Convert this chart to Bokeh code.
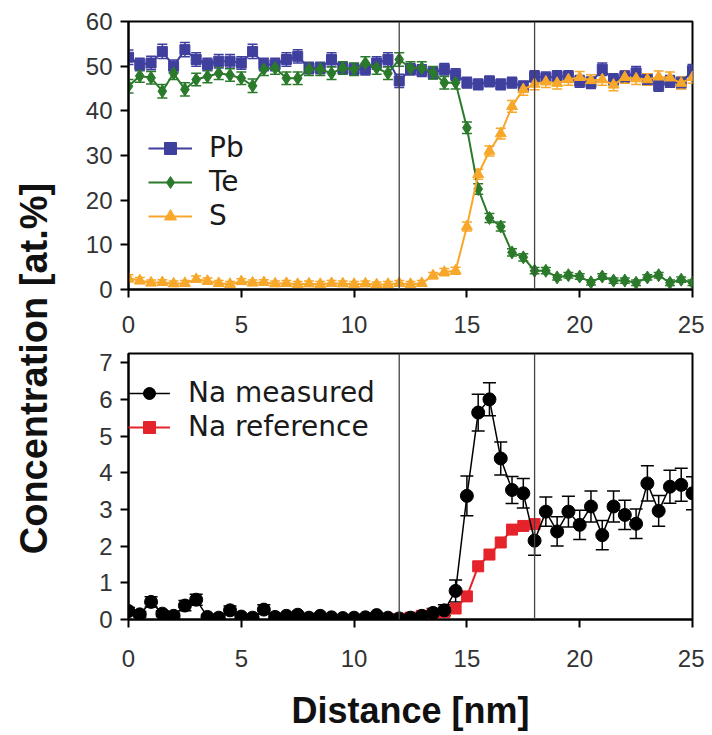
import numpy as np
from bokeh.plotting import figure
from bokeh.layouts import row, column
from bokeh.models import Span, Legend, LegendItem, FixedTicker, Range1d
from bokeh.embed import file_html
from bokeh.resources import INLINE
from bokeh.core.properties import value

# ---------------- data ----------------
distance = [0.0, 0.5, 1.0, 1.5, 2.0, 2.5, 3.0, 3.5, 4.0, 4.5,
            5.0, 5.5, 6.0, 6.5, 7.0, 7.5, 8.0, 8.5, 9.0, 9.5,
            10.0, 10.5, 11.0, 11.5, 12.0, 12.5, 13.0, 13.5, 14.0, 14.5,
            15.0, 15.5, 16.0, 16.5, 17.0, 17.5, 18.0, 18.5, 19.0, 19.5,
            20.0, 20.5, 21.0, 21.5, 22.0, 22.5, 23.0, 23.5, 24.0, 24.5, 25.0]

pb = [52.0, 50.4, 50.7, 53.3, 50.0, 53.7, 51.5, 50.4, 51.1, 51.1,
      50.7, 53.3, 50.4, 50.4, 51.5, 52.2, 49.6, 49.6, 51.5, 49.6,
      49.3, 49.3, 50.7, 51.5, 46.7, 49.3, 49.0, 48.5, 49.3, 48.1,
      46.3, 45.9, 46.6, 45.9, 46.3, 45.5, 47.7, 47.4, 47.7, 47.7,
      46.6, 46.3, 49.3, 47.0, 47.7, 48.5, 47.0, 45.6, 46.6, 46.3, 49.0]
pb_err = [1.6, 1.4, 1.5, 1.6, 1.4, 1.6, 1.5, 1.4, 1.5, 1.5,
          1.4, 1.6, 1.4, 1.4, 1.5, 1.5, 1.3, 1.3, 1.5, 1.3,
          1.3, 1.3, 1.4, 1.5, 1.5, 1.3, 1.3, 1.3, 1.3, 1.3,
          1.2, 1.2, 1.2, 1.2, 1.2, 1.2, 1.3, 1.3, 1.3, 1.3,
          1.3, 1.3, 1.4, 1.3, 1.3, 1.4, 1.3, 1.2, 1.3, 1.3, 1.4]

te = [45.5, 47.8, 47.4, 44.4, 48.4, 44.8, 47.0, 47.7, 48.4, 48.0,
      47.3, 45.6, 49.3, 49.6, 47.3, 47.3, 49.3, 49.3, 48.4, 49.6,
      49.3, 50.7, 49.6, 48.4, 51.5, 49.6, 49.6, 48.5, 46.3, 46.3,
      36.2, 22.5, 16.0, 14.1, 8.3, 7.2, 4.2, 4.2, 2.7, 3.2,
      2.9, 1.6, 2.9, 2.0, 2.0, 1.5, 2.7, 3.2, 1.5, 2.2, 1.5]
te_err = [1.5, 1.4, 1.4, 1.5, 1.4, 1.5, 1.4, 1.4, 1.4, 1.4,
          1.4, 1.5, 1.4, 1.4, 1.4, 1.4, 1.4, 1.4, 1.4, 1.4,
          1.4, 1.4, 1.4, 1.4, 1.5, 1.4, 1.4, 1.4, 1.4, 1.4,
          1.3, 1.2, 1.0, 1.0, 0.8, 0.8, 0.7, 0.7, 0.6, 0.6,
          0.6, 0.6, 0.6, 0.6, 0.6, 0.6, 0.6, 0.6, 0.6, 0.6, 0.6]

s = [2.5, 2.0, 1.5, 1.6, 1.3, 1.4, 2.3, 1.9, 1.4, 1.2,
     1.8, 1.5, 1.6, 1.3, 1.4, 1.2, 1.3, 1.2, 1.4, 1.3,
     1.2, 1.3, 1.1, 1.2, 1.4, 1.2, 1.4, 3.1, 3.9, 4.2,
     14.1, 25.8, 31.0, 34.9, 41.0, 44.8, 46.0, 46.5, 46.2, 47.0,
     47.5, 46.8, 47.0, 45.8, 47.5, 47.2, 47.0, 47.6, 47.4, 46.2, 47.5]
s_err = [0.8, 0.7, 0.6, 0.6, 0.6, 0.6, 0.7, 0.7, 0.6, 0.6,
         0.6, 0.6, 0.6, 0.6, 0.6, 0.6, 0.6, 0.6, 0.6, 0.6,
         0.6, 0.6, 0.6, 0.6, 0.6, 0.6, 0.6, 0.7, 0.8, 0.8,
         1.0, 1.1, 1.1, 1.2, 1.3, 1.3, 1.3, 1.3, 1.3, 1.3,
         1.3, 1.3, 1.3, 1.3, 1.3, 1.3, 1.3, 1.3, 1.3, 1.3, 1.3]

na_measured = [0.23, 0.14, 0.48, 0.16, 0.10, 0.38, 0.54, 0.07, 0.05, 0.25,
               0.08, 0.05, 0.27, 0.07, 0.10, 0.13, 0.05, 0.10, 0.06, 0.04,
               0.05, 0.06, 0.12, 0.05, 0.03, 0.05, 0.10, 0.18, 0.25, 0.78,
               3.37, 5.64, 6.00, 4.39, 3.53, 3.44, 2.15, 2.94, 2.40, 2.94,
               2.58, 3.08, 2.30, 3.08, 2.85, 2.61, 3.71, 2.96, 3.62, 3.67, 3.44]
na_measured_err = [0.10, 0.08, 0.14, 0.08, 0.07, 0.14, 0.15, 0.05, 0.04, 0.12,
                   0.05, 0.04, 0.13, 0.05, 0.06, 0.06, 0.04, 0.06, 0.04, 0.04,
                   0.04, 0.04, 0.06, 0.04, 0.03, 0.04, 0.06, 0.12, 0.15, 0.30,
                   0.54, 0.50, 0.45, 0.45, 0.37, 0.40, 0.40, 0.40, 0.40, 0.42,
                   0.40, 0.42, 0.40, 0.42, 0.40, 0.40, 0.48, 0.42, 0.45, 0.45, 0.45]

na_ref_distance = [12.0, 12.5, 13.0, 13.5, 14.0, 14.5, 15.0, 15.5, 16.0, 16.5, 17.0, 17.5, 18.0]
na_reference = [0.02, 0.05, 0.10, 0.15, 0.20, 0.30, 0.63, 1.45, 1.77, 2.10, 2.45, 2.55, 2.60]
na_reference_err = [0.05, 0.06, 0.06, 0.06, 0.06, 0.06, 0.08, 0.08, 0.08, 0.08, 0.08, 0.08, 0.08]

interfaces = [12, 18]
x_ticks = [0, 5, 10, 15, 20, 25]
top_y_ticks = [0, 10, 20, 30, 40, 50, 60]
bottom_y_ticks = [0, 1, 2, 3, 4, 5, 6, 7]

# ---------------- styling helpers ----------------
TICK_FONT = "Liberation Sans"
BLUE = "#3f3f9e"
GREEN = "#2b7a2b"
ORANGE = "#f7a72a"
RED = "#e5232a"


def style(p, yticks, xstandoff):
    p.toolbar.logo = None
    p.xgrid.visible = False
    p.ygrid.visible = False
    p.outline_line_color = "black"
    p.outline_line_width = 2
    p.outline_line_alpha = 1
    p.xaxis.ticker = FixedTicker(ticks=x_ticks)
    p.yaxis.ticker = FixedTicker(ticks=yticks)
    for ax in (p.xaxis, p.yaxis):
        ax.axis_line_color = "black"
        ax.axis_line_width = 2
        ax.major_tick_line_color = "black"
        ax.major_tick_line_width = 2
        ax.major_tick_in = 0
        ax.major_tick_out = 8
        ax.minor_tick_line_color = None
        ax.major_label_text_font = TICK_FONT
        ax.major_label_text_font_size = "24px"
        ax.major_label_text_color = "#333333"
    p.xaxis.major_label_standoff = xstandoff
    p.yaxis.major_label_standoff = 8
    for loc in interfaces:
        p.add_layout(Span(location=loc, dimension="height", line_color="#444444",
                          line_width=1.3))


def errbars(p, x, y, err, color, cap, lw=1.5):
    lo = [a - b for a, b in zip(y, err)]
    hi = [a + b for a, b in zip(y, err)]
    p.segment(x0=x, y0=lo, x1=x, y1=hi, line_color=color, line_width=lw)
    p.scatter(x, hi, marker="dash", size=cap, line_color=color, line_width=lw)
    p.scatter(x, lo, marker="dash", size=cap, line_color=color, line_width=lw)


# ---------------- top panel ----------------
top = figure(width=646, height=347, output_backend="svg", toolbar_location=None,
             x_range=Range1d(0, 25), y_range=Range1d(0, 60),
             min_border_left=70, min_border_right=12, min_border_top=21, min_border_bottom=58)
style(top, top_y_ticks, 18)

errbars(top, distance, pb, pb_err, BLUE, 10)
errbars(top, distance, te, te_err, GREEN, 10)
errbars(top, distance, s, s_err, ORANGE, 10)

pb_line = top.line(distance, pb, line_color=BLUE, line_width=2)
pb_mark = top.scatter(distance, pb, marker="square", size=10, fill_color=BLUE, line_color=BLUE)
te_line = top.line(distance, te, line_color=GREEN, line_width=2)
te_mark = top.scatter(distance, te, marker="diamond", size=13, fill_color=GREEN, line_color=GREEN)
s_line = top.line(distance, s, line_color=ORANGE, line_width=2)
s_mark = top.scatter(distance, s, marker="triangle", size=11, fill_color=ORANGE, line_color=ORANGE)

top_legend = Legend(items=[LegendItem(label="Pb", renderers=[pb_line, pb_mark]),
                           LegendItem(label="Te", renderers=[te_line, te_mark]),
                           LegendItem(label="S", renderers=[s_line, s_mark])],
                    location=(20, 57))

# ---------------- bottom panel ----------------
bottom = figure(width=646, height=386, output_backend="svg", toolbar_location=None,
                x_range=Range1d(0, 25), y_range=Range1d(0, 7.25),
                min_border_left=70, min_border_right=12, min_border_top=6, min_border_bottom=113)
style(bottom, bottom_y_ticks, 22)
bottom.xaxis.axis_label = "Distance [nm]"
bottom.xaxis.axis_label_text_font = TICK_FONT
bottom.xaxis.axis_label_text_font_style = "bold"
bottom.xaxis.axis_label_text_font_size = "36px"
bottom.xaxis.axis_label_text_color = "#111111"
bottom.xaxis.axis_label_standoff = 20

errbars(bottom, na_ref_distance, na_reference, na_reference_err, RED, 10)
errbars(bottom, distance, na_measured, na_measured_err, "black", 13)
ref_line = bottom.line(na_ref_distance, na_reference, line_color=RED, line_width=2)
ref_mark = bottom.scatter(na_ref_distance, na_reference, marker="square", size=11,
                          fill_color=RED, line_color=RED)
meas_line = bottom.line(distance, na_measured, line_color="black", line_width=1.5)
meas_mark = bottom.scatter(distance, na_measured, marker="circle", size=13,
                           fill_color="black", line_color="black")

bottom_legend = Legend(items=[LegendItem(label="Na measured", renderers=[meas_line, meas_mark]),
                              LegendItem(label="Na reference", renderers=[ref_line, ref_mark])],
                       location=(0, 176))

for lg, gw, so in ((top_legend, 44, 17), (bottom_legend, 42, 18)):
    lg.border_line_alpha = 0
    lg.background_fill_alpha = 0
    lg.padding = 0
    lg.margin = 0
    lg.spacing = 1
    lg.glyph_width = gw
    lg.glyph_height = 30
    lg.label_height = 30
    lg.label_standoff = so
    lg.label_text_font = "DejaVu Sans"
    lg.label_text_font_size = "28px"
    lg.label_text_color = "#1a1a1a"
top.add_layout(top_legend)
bottom.add_layout(bottom_legend)

# ---------------- shared y title ----------------
lab = figure(width=58, height=733, output_backend="svg", toolbar_location=None,
             x_range=Range1d(0, 58), y_range=Range1d(0, 733),
             x_axis_location=None, y_axis_location=None, min_border=0)
lab.outline_line_color = None
lab.xgrid.visible = False
lab.ygrid.visible = False
lab.text(x=[33], y=[365], text=["Concentration [at.%]"], angle=np.pi / 2,
         text_align="center", text_baseline="middle", text_font=value(TICK_FONT),
         text_font_style="bold", text_font_size="38px", text_color="#111111")

layout = row(lab, column(top, bottom))
open("out.html", "w").write(file_html(layout, INLINE))
